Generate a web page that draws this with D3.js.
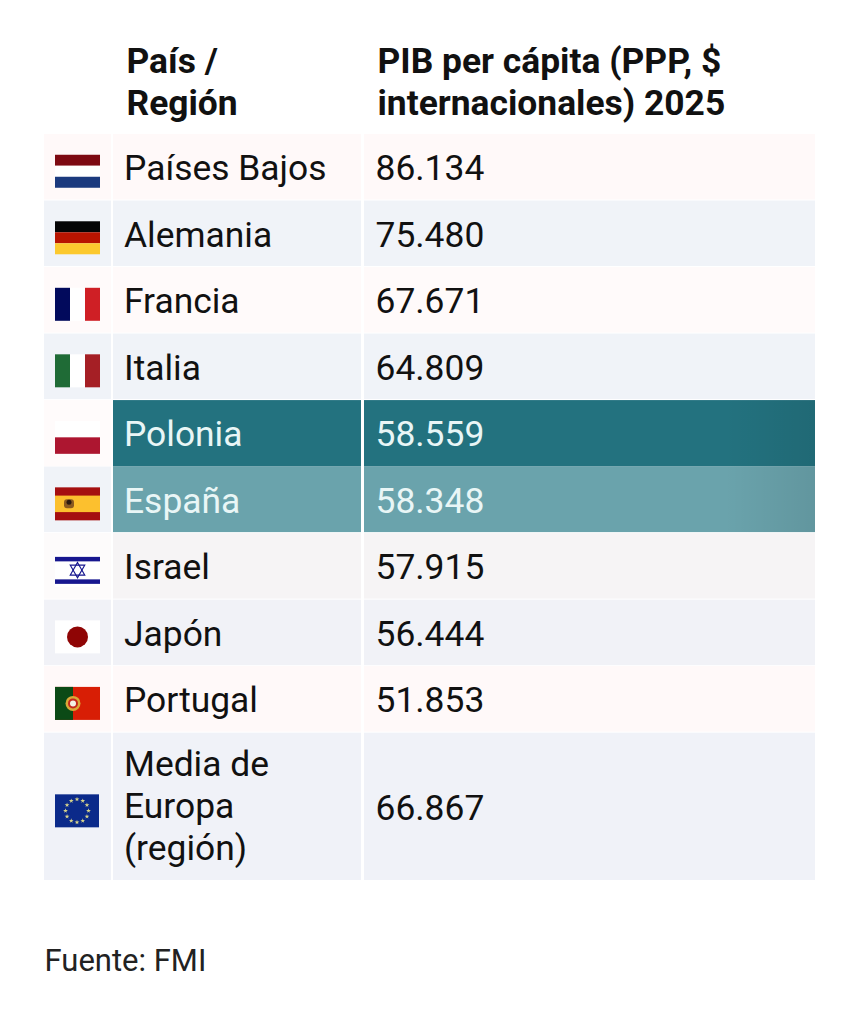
<!DOCTYPE html>
<html>
<head>
<meta charset="utf-8">
<title>PIB per cápita</title>
<script src="https://d3js.org/d3.v7.min.js"></script>
<style>
html,body{margin:0;padding:0;background:#fff}
svg{display:block}
text{font-family:Roboto,sans-serif}
</style>
</head>
<body>
<script>
const countries = [["Países Bajos"],["Alemania"],["Francia"],["Italia"],["Polonia"],["España"],["Israel"],["Japón"],["Portugal"],["Media de","Europa","(región)"]];
const values = [86134,75480,67671,64809,58559,58348,57915,56444,51853,66867];
const flagKeys = ["nl","de","fr","it","pl","es","il","jp","pt","eu"];
const rowFills = ["#fff9f9","#f0f3f8","#fffafa","#f0f3f8","#23727f","#6aa3ac","#f6f4f5","#f1f2f7","#fff9f9","#f0f2f8"];
const flagCellFills = ["#fff9f9","#f0f3f8","#fffafa","#f0f3f8","#fffbfb","#f0f3f8","#fdfbfb","#f1f2f7","#fff9f9","#f0f2f8"];
const rowUnits = [1,1,1,1,1,1,1,1,1,2.23];
const headerCountry = ["País /","Región"];
const headerValue = ["PIB per cápita (PPP, $","internacionales) 2025"];
const source = "Fuente: FMI";

const W = 863, H = 1024;
const svg = d3.select("body").append("svg").attr("width",W).attr("height",H);

// row positions come from cumulative row units
const cum = [0].concat(Array.from(d3.cumsum(rowUnits)));
const y = d3.scaleLinear().domain([0,d3.max(cum)]).range([134,881]);
const fmt = d3.formatLocale({decimal:",",thousands:".",grouping:[3],currency:["","$"]}).format(",d");

const rows = countries.map((c,i)=>({name:c,value:values[i],flag:flagKeys[i],fill:rowFills[i],flagFill:flagCellFills[i],y0:y(cum[i]),y1:y(cum[i+1]),light:i===4||i===5}));

const defs = svg.append("defs");
const edge = defs.append("linearGradient").attr("id","edge");
edge.append("stop").attr("offset","0.8").attr("stop-color","#000").attr("stop-opacity",0);
edge.append("stop").attr("offset","1").attr("stop-color","#000").attr("stop-opacity",0.08);

// header
const header = svg.append("g").attr("font-size",35.4).attr("font-weight",700).attr("fill","#111");
headerCountry.forEach((t,i)=>header.append("text").attr("x",126.5).attr("y",72.5+i*42).text(t));
headerValue.forEach((t,i)=>header.append("text").attr("x",377.5).attr("y",72.5+i*42).text(t));

// teal rows touch each other, the others keep a 1px gap
const rowH = d => d.y1-d.y0-(d.flag==="pl"?0:1);
const row = svg.selectAll("g.row").data(rows).join("g").attr("class","row");
row.append("rect").attr("x",44).attr("width",67).attr("y",d=>d.y0).attr("height",rowH).attr("fill",d=>d.flagFill);
row.append("rect").attr("x",113).attr("width",248).attr("y",d=>d.y0).attr("height",rowH).attr("fill",d=>d.fill);
row.append("rect").attr("x",364).attr("width",451).attr("y",d=>d.y0).attr("height",rowH).attr("fill",d=>d.fill);
row.filter(d=>d.light).append("rect").attr("x",364).attr("width",451).attr("y",d=>d.y0).attr("height",rowH).attr("fill","url(#edge)");

row.each(function(d){
  const g = d3.select(this);
  const cy = (d.y0+d.y1)/2;
  const top = cy-(d.name.length-1)*21-(d.name.length>1?2:0);
  d.name.forEach((t,i)=>g.append("text").attr("x",124).attr("y",top+i*42+13).attr("font-size",35.4)
    .attr("fill",d.light?"#e9f6f6":"#111").text(t));
  g.append("text").attr("x",375.5).attr("y",cy+13).attr("font-size",35.4)
    .attr("fill",d.light?"#e9f6f6":"#111").text(fmt(d.value));
  drawFlag(g.append("g").attr("transform",`translate(55,${cy-12.5})`),d.flag);
});

svg.append("text").attr("x",44.5).attr("y",971).attr("font-size",31).attr("fill","#222").text(source);

function stripes(g,cols,horizontal){
  const s = d3.scaleBand().domain(d3.range(cols.length)).range([0,horizontal?33:45]);
  cols.forEach((c,i)=>{
    if(horizontal) g.append("rect").attr("x",0).attr("y",s(i)).attr("width",45).attr("height",s.bandwidth()).attr("fill",c);
    else g.append("rect").attr("x",s(i)).attr("y",0).attr("width",s.bandwidth()).attr("height",33).attr("fill",c);
  });
}

function drawFlag(g,key){
  if(key==="nl") stripes(g,["#7d0a12","#ffffff","#1b3a7e"],true);
  if(key==="de") stripes(g,["#050505","#b81400","#fcc92e"],true);
  if(key==="fr") stripes(g,["#020a5c","#ffffff","#cf1f25"],false);
  if(key==="it") stripes(g,["#1f6b36","#ffffff","#a51f25"],false);
  if(key==="pl"){
    stripes(g,["#ffffff","#ad1630"],true);
  }
  if(key==="es"){
    g.append("rect").attr("width",45).attr("height",33).attr("fill","#a50f10");
    g.append("rect").attr("y",8.25).attr("width",45).attr("height",16.5).attr("fill","#fcc02e");
    g.append("rect").attr("x",9).attr("y",12).attr("width",10).attr("height",9).attr("rx",3).attr("fill","#8a5a20");
    g.append("circle").attr("cx",14).attr("cy",15).attr("r",2.5).attr("fill","#2b1a10");
  }
  if(key==="il"){
    g.append("rect").attr("width",45).attr("height",33).attr("fill","#ffffff");
    g.append("rect").attr("y",3).attr("width",45).attr("height",4.5).attr("fill","#17178f");
    g.append("rect").attr("y",25.5).attr("width",45).attr("height",4.5).attr("fill","#17178f");
    const tri = d3.symbol().type(d3.symbolTriangle).size(90);
    g.append("path").attr("d",tri()).attr("transform","translate(22.5,17)").attr("fill","none").attr("stroke","#17178f").attr("stroke-width",1.2);
    g.append("path").attr("d",tri()).attr("transform","translate(22.5,15.5) rotate(180)").attr("fill","none").attr("stroke","#17178f").attr("stroke-width",1.2);
  }
  if(key==="jp"){
    g.append("rect").attr("width",45).attr("height",33).attr("fill","#ffffff");
    g.append("circle").attr("cx",22.5).attr("cy",16.5).attr("r",10.5).attr("fill","#8f0505");
  }
  if(key==="pt"){
    g.append("rect").attr("width",45).attr("height",33).attr("fill","#d81e05");
    g.append("rect").attr("width",18).attr("height",33).attr("fill","#0b4a16");
    g.append("circle").attr("cx",18).attr("cy",16.5).attr("r",7.5).attr("fill","#d8a838");
    g.append("circle").attr("cx",18).attr("cy",16.5).attr("r",5).attr("fill","#c5271d");
    g.append("circle").attr("cx",18).attr("cy",16.5).attr("r",3).attr("fill","#f4f0e6");
  }
  if(key==="eu"){
    g.append("rect").attr("width",44).attr("height",33).attr("fill","#0b2a8a");
    const star = d3.symbol().type(d3.symbolStar).size(7);
    d3.range(12).forEach(i=>{
      const a = i/12*2*Math.PI;
      g.append("path").attr("d",star())
        .attr("transform",`translate(${22+11.5*Math.cos(a)},${16.5+11.5*Math.sin(a)})`)
        .attr("fill","#d8d48a");
    });
  }
}
</script>
</body>
</html>
